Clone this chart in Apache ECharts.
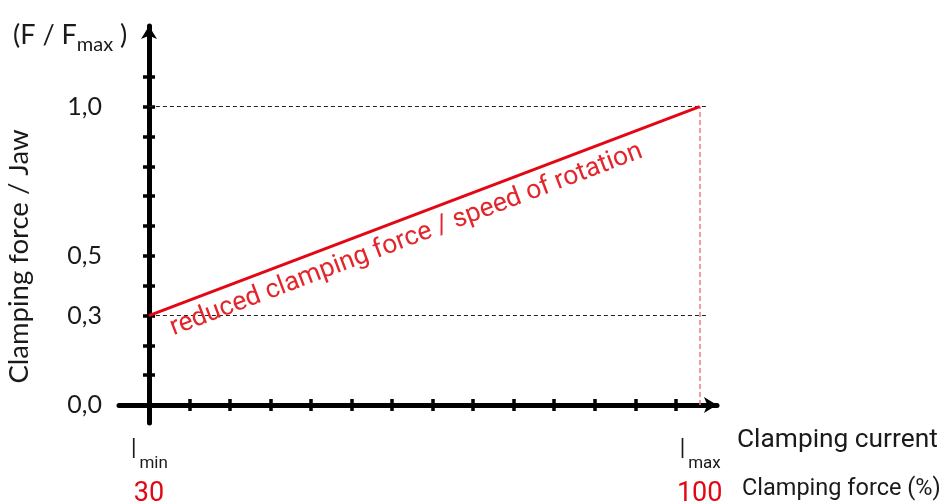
<!DOCTYPE html>
<html>
<head>
<meta charset="utf-8">
<script src="https://cdn.jsdelivr.net/npm/echarts@6/dist/echarts.min.js"></script>
<style>
html,body{margin:0;padding:0;background:#fff;}
#chart{width:945px;height:504px;}
</style>
</head>
<body>
<div id="chart"></div>
<script>
// ---- data ----
const lineX = [30, 100];            // clamping force (%) : Imin .. Imax
const lineY = [0.3, 1.0];           // F / Fmax
const xTickValues = [35.2, 40.3, 45.5, 50.6, 55.8, 60.9, 66.1, 71.2, 76.4, 81.5, 86.7, 91.9, 97.0];
const yTickValues = [0.1, 0.2, 0.3, 0.4, 0.5, 0.6, 0.7, 0.8, 0.9, 1.0, 1.1];
const yLabelValues = [0, 0.3, 0.5, 1.0];
const xLabelValues = [30, 100];
const xLabelSubs = {30: 'min', 100: 'max'};
const guideLevels = [1.0, 0.3];
const guideEndX = 100.8;
const lineText = 'reduced clamping force / speed of rotation';
const xName1 = 'Clamping current';
const xName2 = 'Clamping force (%)';
const yName = 'Clamping force / Jaw';

const RED = '#e30613';
const TXT = '#1a1a1a';
const FONT_A = 'Lato';
const FONT_B = 'Roboto';

const chart = echarts.init(document.getElementById('chart'), null, {renderer: 'canvas'});

const baseX = {
  type: 'value', min: 26.2, max: 102.2, position: 'bottom', offset: -18,
  splitLine: {show: false}
};
const baseY = {
  type: 'value', min: -0.06, max: 1.27, position: 'left', offset: -30,
  splitLine: {show: false}
};

const markData = [];
guideLevels.forEach(v => {
  markData.push([
    {coord: [lineX[0], v], lineStyle: {color: '#222', width: 1, type: [4, 3]}, label: {show: false}},
    {coord: [guideEndX, v]}
  ]);
});
markData.push([
  {coord: [lineX[1], 0], lineStyle: {color: '#ef7a82', width: 1.5, type: [5, 3]}, label: {show: false}},
  {coord: [lineX[1], lineY[1]]}
]);
markData.push([
  {coord: [lineX[0], lineY[0]], lineStyle: {color: 'rgba(0,0,0,0)', width: 1, type: 'solid'},
   label: {show: true, position: 'insideMiddleBottom', formatter: lineText, color: '#e3262b',
           fontFamily: FONT_B, fontSize: 26.5, distance: 7, padding: [0, 54, 0, 0]}},
  {coord: [lineX[1], lineY[1]]}
]);

const option = {
  animation: false,
  backgroundColor: '#fff',
  title: {
    left: 8, top: 12,
    text: '{a|(F / F}{b|max}{a| )}',
    textStyle: {
      fontWeight: 'normal',
      rich: {
        a: {fontFamily: FONT_A, fontSize: 27, fontWeight: 'normal', color: TXT, verticalAlign: 'bottom', lineHeight: 32},
        b: {fontFamily: FONT_A, fontSize: 20, fontWeight: 'normal', color: TXT, verticalAlign: 'bottom', lineHeight: 26, padding: [0,0,-6,0]}
      }
    }
  },
  grid: {left: 119, right: 228, top: 26, bottom: 81, outerBoundsMode: 'none', containLabel: false},
  xAxis: [
    Object.assign({}, baseX, {
      axisLine: {show: true, lineStyle: {color: '#000', width: 5}, symbol: ['none', 'arrow'], symbolSize: [12, 13]},
      axisTick: {show: true, customValues: xTickValues, length: 6, lineStyle: {color: '#000', width: 3.5}},
      axisLabel: {
        show: true, customValues: xLabelValues, margin: 24,
        formatter: v => '{i|I}{s|' + (xLabelSubs[v] || '') + '}',
        rich: {
          i: {fontFamily: FONT_B, fontSize: 28, color: TXT, fontWeight: 300},
          s: {fontFamily: FONT_B, fontSize: 17, color: TXT, padding: [26, 0, 0, 2]}
        }
      },
      name: xName1, nameLocation: 'end', nameGap: 20,
      nameTextStyle: {fontFamily: FONT_B, fontSize: 26.3, color: TXT, align: 'left', verticalAlign: 'top', padding: [22, 0, 0, 0]}
    }),
    Object.assign({}, baseX, {
      axisLine: {show: false},
      axisTick: {show: true, inside: true, customValues: xTickValues, length: 6, lineStyle: {color: '#000', width: 3.5}},
      axisLabel: {
        show: true, customValues: xLabelValues, margin: 76,
        fontFamily: FONT_B, fontSize: 27, color: RED
      },
      name: xName2, nameLocation: 'end', nameGap: 25,
      nameTextStyle: {fontFamily: FONT_B, fontSize: 23.5, color: TXT, align: 'left', verticalAlign: 'top', padding: [72, 0, 0, 0]}
    })
  ],
  yAxis: [
    Object.assign({}, baseY, {
      axisLine: {show: true, lineStyle: {color: '#000', width: 5}, symbol: ['none', 'arrow'], symbolSize: [12, 13]},
      axisTick: {show: true, customValues: yTickValues, length: 6, lineStyle: {color: '#000', width: 3.5}},
      axisLabel: {
        show: true, customValues: yLabelValues, margin: 47,
        fontFamily: FONT_A, fontSize: 25, color: TXT,
        formatter: v => v.toFixed(1).replace('.', ',')
      },
      name: yName, nameLocation: 'middle', nameGap: 116, nameRotate: 90,
      nameTextStyle: {fontFamily: FONT_A, fontSize: 27.5, color: TXT, padding: [0, 64, 0, 0]}
    }),
    Object.assign({}, baseY, {
      axisLine: {show: false},
      axisTick: {show: true, inside: true, customValues: yTickValues, length: 6, lineStyle: {color: '#000', width: 3.5}},
      axisLabel: {show: false}
    })
  ],
  series: [{
    type: 'line',
    xAxisIndex: 0, yAxisIndex: 0,
    data: lineX.map((x, i) => [x, lineY[i]]),
    symbol: 'none',
    lineStyle: {color: RED, width: 3},
    z: 5,
    markLine: {
      silent: true, symbol: ['none', 'none'], animation: false,
      data: markData
    }
  }]
};
chart.setOption(option);
</script>
</body>
</html>
